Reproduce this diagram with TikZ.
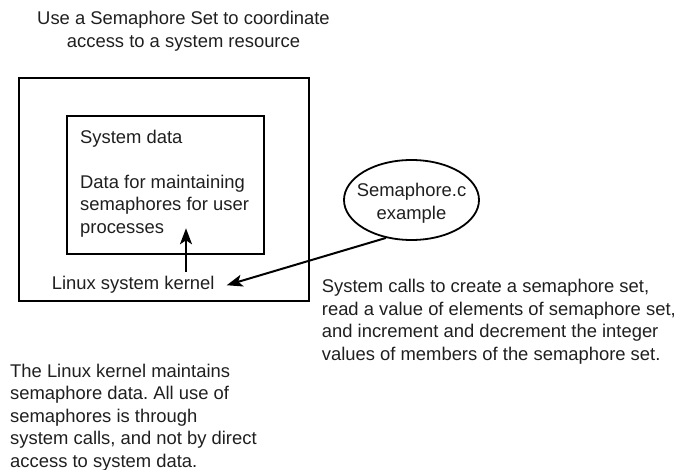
\documentclass[tikz,border=0pt]{standalone}
\usepackage{fontspec}
\setmainfont{Liberation Sans}
\usetikzlibrary{shapes.geometric,arrows.meta}
\frenchspacing
\begin{document}
\begin{tikzpicture}[x=1pt,y=-1pt,
  txt/.style={font=\fontsize{18.4}{22.5}\selectfont\frenchspacing, inner sep=0pt, text=black!88},
  box/.style={draw, line width=2pt},
  arr/.style={line width=2pt, -{Stealth[length=16pt,width=12pt,inset=4pt]}}]
\useasboundingbox (0,0) rectangle (680,470);
% title (anchor = baseline of last line)
\node[txt, align=center, anchor=base] (title) at (183.5,47.5) {Use a Semaphore Set to coordinate\\access to a system resource};
% boxes
\node[box, minimum width=290pt, minimum height=223pt, anchor=north west, inner sep=0pt] (outer) at (18,77) {};
\node[box, minimum width=197pt, minimum height=138pt, anchor=north west, inner sep=0pt] (inner) at (66,115) {};
\node[txt, anchor=base west] (sysdata) at (80,143.3) {System data};
\node[txt, align=left, anchor=base west] (data) at (80,233.5) {Data for maintaining\\semaphores for user\\processes};
% kernel label
\node[txt, anchor=base west, inner xsep=12pt, inner ysep=4.5pt] (kernel) at (39.7,290) {Linux system kernel};
\coordinate (dtip) at (186,228.3);
\draw[arr] (kernel.north -| dtip) -- (dtip);
% ellipse
\node[ellipse, draw, line width=1.8pt, minimum width=135pt, minimum height=80pt, inner sep=0pt,
  label={[txt, align=center, yshift=-3pt]center:Semaphore.c\\example}] (sema) at (411.5,200) {};
\draw[arr] (sema.236) -- (kernel.east);
% side texts
\node[txt, align=left, anchor=base west] (calls) at (321.7,360.2) {System calls to create a semaphore set,\\read a value of elements of semaphore set,\\and increment and decrement the integer\\values of members of the semaphore set.};
\node[txt, align=left, anchor=base west] (note) at (10,467.3) {The Linux kernel maintains\\semaphore data. All use of\\semaphores is through\\system calls, and not by direct\\access to system data.};
\end{tikzpicture}
\end{document}
